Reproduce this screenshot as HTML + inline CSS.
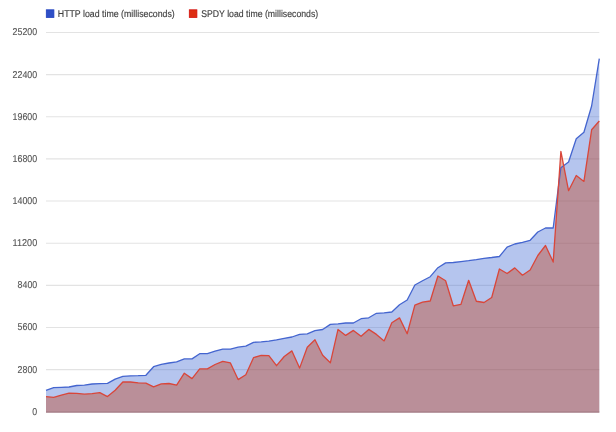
<!DOCTYPE html>
<html><head><meta charset="utf-8"><style>
html,body{margin:0;padding:0;background:#fff;}
svg{display:block;will-change:transform;font-family:"Liberation Sans",sans-serif;}
</style></head><body>
<svg width="616" height="432" viewBox="0 0 616 432">
<rect width="616" height="432" fill="#fff"/>
<g font-size="9.9" text-rendering="geometricPrecision" fill="#555" stroke="#555" stroke-width="0.12">
<text x="37.2" y="414.73" text-anchor="end" textLength="4.9" lengthAdjust="spacingAndGlyphs">0</text>
<text x="37.2" y="372.58" text-anchor="end" textLength="19.6" lengthAdjust="spacingAndGlyphs">2800</text>
<text x="37.2" y="330.44" text-anchor="end" textLength="19.6" lengthAdjust="spacingAndGlyphs">5600</text>
<text x="37.2" y="288.29" text-anchor="end" textLength="19.6" lengthAdjust="spacingAndGlyphs">8400</text>
<text x="37.2" y="246.14" text-anchor="end" textLength="24.6" lengthAdjust="spacingAndGlyphs">11200</text>
<text x="37.2" y="203.99" text-anchor="end" textLength="24.6" lengthAdjust="spacingAndGlyphs">14000</text>
<text x="37.2" y="161.85" text-anchor="end" textLength="24.6" lengthAdjust="spacingAndGlyphs">16800</text>
<text x="37.2" y="119.70" text-anchor="end" textLength="24.6" lengthAdjust="spacingAndGlyphs">19600</text>
<text x="37.2" y="77.55" text-anchor="end" textLength="24.6" lengthAdjust="spacingAndGlyphs">22400</text>
<text x="37.2" y="35.41" text-anchor="end" textLength="24.6" lengthAdjust="spacingAndGlyphs">25200</text>
</g>
<rect x="46.3" y="9.8" width="7.6" height="7.6" fill="#2e4fc6" stroke="#1f3fbf" stroke-width="0.8"/>
<text x="57.8" y="16.9" font-size="9.8" text-rendering="geometricPrecision" fill="#404040" stroke="#404040" stroke-width="0.15" textLength="117" lengthAdjust="spacingAndGlyphs">HTTP load time (milliseconds)</text>
<rect x="189.3" y="9.8" width="7.6" height="7.6" fill="#dc2e12" stroke="#d40f0a" stroke-width="0.8"/>
<text x="201.2" y="16.9" font-size="9.8" text-rendering="geometricPrecision" fill="#404040" stroke="#404040" stroke-width="0.15" textLength="117" lengthAdjust="spacingAndGlyphs">SPDY load time (milliseconds)</text>
<line x1="46" x2="599.3" y1="369.63" y2="369.63" stroke="#e3e3e3" stroke-width="1.1"/>
<line x1="46" x2="599.3" y1="327.49" y2="327.49" stroke="#e3e3e3" stroke-width="1.1"/>
<line x1="46" x2="599.3" y1="285.34" y2="285.34" stroke="#e3e3e3" stroke-width="1.1"/>
<line x1="46" x2="599.3" y1="243.19" y2="243.19" stroke="#e3e3e3" stroke-width="1.1"/>
<line x1="46" x2="599.3" y1="201.04" y2="201.04" stroke="#e3e3e3" stroke-width="1.1"/>
<line x1="46" x2="599.3" y1="158.90" y2="158.90" stroke="#e3e3e3" stroke-width="1.1"/>
<line x1="46" x2="599.3" y1="116.75" y2="116.75" stroke="#e3e3e3" stroke-width="1.1"/>
<line x1="46" x2="599.3" y1="74.60" y2="74.60" stroke="#e3e3e3" stroke-width="1.1"/>
<line x1="46" x2="599.3" y1="32.46" y2="32.46" stroke="#e3e3e3" stroke-width="1.1"/>

<polygon points="46.00,412.6 46.00,390.30 53.68,387.60 61.37,387.30 69.05,387.00 76.74,385.50 84.42,385.20 92.11,384.00 99.79,383.70 107.48,383.40 115.16,379.10 122.85,376.40 130.53,375.80 138.22,375.70 145.90,375.30 153.59,366.70 161.27,364.40 168.96,363.00 176.64,361.80 184.32,358.90 192.01,358.90 199.69,353.70 207.38,353.70 215.06,351.10 222.75,349.10 230.43,349.10 238.12,347.20 245.80,346.20 253.49,342.30 261.17,341.90 268.86,341.10 276.54,339.80 284.23,338.30 291.91,337.00 299.60,334.30 307.28,333.90 314.97,330.60 322.65,329.50 330.33,324.40 338.02,323.90 345.70,323.00 353.39,323.00 361.07,318.70 368.76,317.80 376.44,313.30 384.13,312.80 391.81,312.00 399.50,304.80 407.18,300.00 414.87,285.00 422.55,280.80 430.24,276.70 437.92,267.70 445.61,262.90 453.29,262.50 460.97,261.60 468.66,260.70 476.34,259.60 484.03,258.30 491.71,257.50 499.40,256.50 507.08,247.10 514.77,244.00 522.45,242.30 530.14,240.30 537.82,232.00 545.51,228.00 553.19,228.00 560.88,167.70 568.56,162.00 576.25,138.80 583.93,132.20 591.62,106.00 599.30,58.60 599.30,412.6" fill="rgb(70,110,212)" fill-opacity="0.4"/>
<polygon points="46.00,412.6 46.00,396.60 53.68,397.40 61.37,395.10 69.05,393.20 76.74,393.30 84.42,394.20 92.11,393.60 99.79,392.70 107.48,396.60 115.16,390.30 122.85,382.00 130.53,382.00 138.22,382.80 145.90,383.20 153.59,386.80 161.27,383.90 168.96,383.50 176.64,385.10 184.32,373.20 192.01,378.60 199.69,368.90 207.38,368.90 215.06,364.50 222.75,361.30 230.43,362.90 238.12,379.60 245.80,374.70 253.49,357.70 261.17,355.30 268.86,355.60 276.54,365.70 284.23,356.50 291.91,350.90 299.60,368.10 307.28,347.20 314.97,339.80 322.65,355.20 330.33,362.80 338.02,329.40 345.70,335.40 353.39,330.40 361.07,336.30 368.76,329.40 376.44,334.40 384.13,340.90 391.81,322.80 399.50,317.90 407.18,333.75 414.87,305.20 422.55,302.10 430.24,301.00 437.92,276.00 445.61,280.80 453.29,305.80 460.97,304.30 468.66,280.30 476.34,301.25 484.03,302.50 491.71,297.50 499.40,269.00 507.08,273.50 514.77,267.90 522.45,275.20 530.14,270.00 537.82,255.50 545.51,245.50 553.19,262.10 560.88,151.40 568.56,190.70 576.25,175.50 583.93,181.40 591.62,129.80 599.30,121.00 599.30,412.6" fill="rgb(194,62,26)" fill-opacity="0.4"/>
<line x1="46" x2="599.3" y1="412.0" y2="412.0" stroke="#a07880" stroke-width="1"/>
<polyline points="46.00,390.30 53.68,387.60 61.37,387.30 69.05,387.00 76.74,385.50 84.42,385.20 92.11,384.00 99.79,383.70 107.48,383.40 115.16,379.10 122.85,376.40 130.53,375.80 138.22,375.70 145.90,375.30 153.59,366.70 161.27,364.40 168.96,363.00 176.64,361.80 184.32,358.90 192.01,358.90 199.69,353.70 207.38,353.70 215.06,351.10 222.75,349.10 230.43,349.10 238.12,347.20 245.80,346.20 253.49,342.30 261.17,341.90 268.86,341.10 276.54,339.80 284.23,338.30 291.91,337.00 299.60,334.30 307.28,333.90 314.97,330.60 322.65,329.50 330.33,324.40 338.02,323.90 345.70,323.00 353.39,323.00 361.07,318.70 368.76,317.80 376.44,313.30 384.13,312.80 391.81,312.00 399.50,304.80 407.18,300.00 414.87,285.00 422.55,280.80 430.24,276.70 437.92,267.70 445.61,262.90 453.29,262.50 460.97,261.60 468.66,260.70 476.34,259.60 484.03,258.30 491.71,257.50 499.40,256.50 507.08,247.10 514.77,244.00 522.45,242.30 530.14,240.30 537.82,232.00 545.51,228.00 553.19,228.00 560.88,167.70 568.56,162.00 576.25,138.80 583.93,132.20 591.62,106.00 599.30,58.60" fill="none" stroke="#4465cf" stroke-width="1.3" stroke-linejoin="round"/>
<polyline points="46.00,396.60 53.68,397.40 61.37,395.10 69.05,393.20 76.74,393.30 84.42,394.20 92.11,393.60 99.79,392.70 107.48,396.60 115.16,390.30 122.85,382.00 130.53,382.00 138.22,382.80 145.90,383.20 153.59,386.80 161.27,383.90 168.96,383.50 176.64,385.10 184.32,373.20 192.01,378.60 199.69,368.90 207.38,368.90 215.06,364.50 222.75,361.30 230.43,362.90 238.12,379.60 245.80,374.70 253.49,357.70 261.17,355.30 268.86,355.60 276.54,365.70 284.23,356.50 291.91,350.90 299.60,368.10 307.28,347.20 314.97,339.80 322.65,355.20 330.33,362.80 338.02,329.40 345.70,335.40 353.39,330.40 361.07,336.30 368.76,329.40 376.44,334.40 384.13,340.90 391.81,322.80 399.50,317.90 407.18,333.75 414.87,305.20 422.55,302.10 430.24,301.00 437.92,276.00 445.61,280.80 453.29,305.80 460.97,304.30 468.66,280.30 476.34,301.25 484.03,302.50 491.71,297.50 499.40,269.00 507.08,273.50 514.77,267.90 522.45,275.20 530.14,270.00 537.82,255.50 545.51,245.50 553.19,262.10 560.88,151.40 568.56,190.70 576.25,175.50 583.93,181.40 591.62,129.80 599.30,121.00" fill="none" stroke="#d9463a" stroke-width="1.3" stroke-linejoin="round"/>
</svg>
</body></html>
